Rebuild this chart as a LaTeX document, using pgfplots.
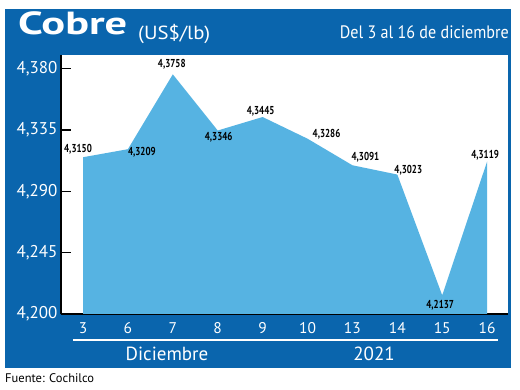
\documentclass[border=0pt]{standalone}
\usepackage{fontspec}
\setmainfont{PT Sans}
\usepackage{pgfplots}
\pgfplotsset{compat=1.18}
\usepackage{pgfplotstable}
\definecolor{frameblue}{HTML}{0A65AD}
\definecolor{areablue}{HTML}{56B3E2}

\pgfplotstableread{
x y lab dx dy
0 4.3150 4,3150 -5 8
1 4.3209 4,3209 14 -3
2 4.3758 4,3758 -1 10
3 4.3346 4,3346 1 -7
4 4.3445 4,3445 -2 6
5 4.3286 4,3286 19 4
6 4.3091 4,3091 13 8
7 4.3023 4,3023 11 4
8 4.2137 4,2137 -2 -10
9 4.3119 4,3119 -2 6
}\cobre

\begin{document}
\begin{tikzpicture}[x=1pt,y=1pt]
\fill[white] (0,0) rectangle (520,390);
\fill[frameblue] (5,22) rectangle (511,381);
\begin{axis}[at={(61pt,76pt)}, anchor=south west,
  width=447pt, height=259pt, scale only axis,
  xmin=-0.49, xmax=9.465, ymin=4.2, ymax=4.39,
  axis background/.style={fill=white},
  axis x line*=bottom, axis y line*=left,
  axis line style={-, black, line width=1.5pt},
  xtick={0,...,9}, xticklabels={3,6,7,8,9,10,13,14,15,16},
  ytick={4.2,4.245,4.29,4.335,4.38},
  yticklabels={{4,200},{4,245},{4,290},{4,335},{4,380}},
  x tick style={draw=none},
  y tick style={black, line width=1.5pt},
  tick align=inside, major tick length=10pt,
  xticklabel style={text=white, font=\fontsize{15.5}{15.5}\selectfont, anchor=base, yshift=-20pt},
  yticklabel style={text=white, font=\fontsize{17}{17}\selectfont},
  clip=false]
\addplot[fill=areablue, draw=none] table[x=x,y=y]{\cobre}
  -- (axis cs:9,4.2) -- (axis cs:0,4.2) -- cycle;
\addplot[draw=none, mark=none, point meta=explicit symbolic,
  visualization depends on={\thisrow{dx}\as\dx},
  visualization depends on={\thisrow{dy}\as\dy},
  nodes near coords={\scalebox{0.78}[1]{\pgfplotspointmeta}},
  every node near coord/.append style={anchor=center, xshift=\dx pt, yshift=\dy pt,
    font=\fontsize{11.5}{11.5}\selectfont\bfseries, text=black, inner sep=0pt}]
  table[x=x,y=y,meta=lab]{\cobre};
\end{axis}
\draw[white, line width=1.5pt] (73,50) -- (498,50);
\node[anchor=base, text=white, font=\fontsize{19}{19}\selectfont] at (167,29) {Diciembre};
\node[anchor=base, text=white, font=\fontsize{19}{19}\selectfont] at (374,29) {2021};
\node[anchor=base west, inner sep=0pt, text=white] at (18,355)
  {\resizebox{109pt}{\height}{\fontsize{32}{32}\selectfont\bfseries Cobre}};
\node[anchor=base west, inner sep=0pt, text=white] at (138,350)
  {\resizebox{72pt}{\height}{\fontsize{19}{19}\selectfont (US\$/lb)}};
\node[anchor=base east, inner sep=0pt, text=white] at (509,351)
  {\resizebox{169pt}{\height}{\fontsize{18}{18}\selectfont Del 3 al 16 de diciembre}};
\node[anchor=base west, inner sep=0pt] at (5,7) {\fontsize{12.5}{12.5}\selectfont Fuente: Cochilco};
\end{tikzpicture}
\end{document}
